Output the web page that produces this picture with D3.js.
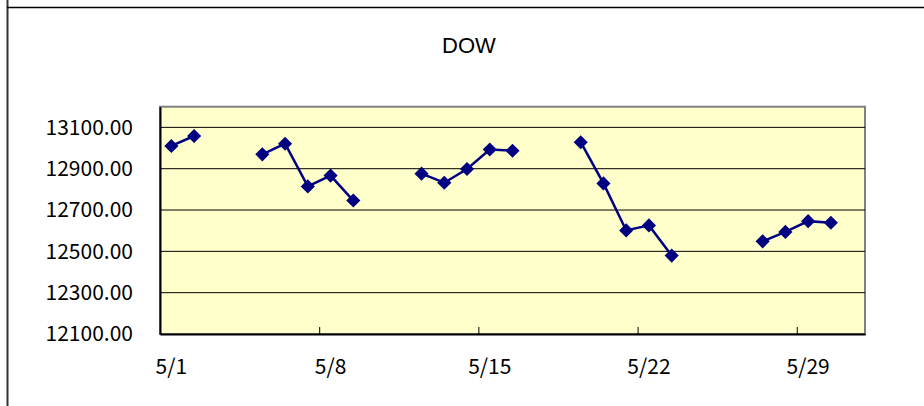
<!DOCTYPE html>
<html>
<head>
<meta charset="utf-8">
<script src="https://cdn.jsdelivr.net/npm/d3@7"></script>
<style>
  body { margin: 0; background: #fff; }
  text { font-family: "Noto Sans CJK JP", "Liberation Sans", sans-serif; fill: #000; }
</style>
</head>
<body>
<div id="chart"></div>
<script>
// trading days in May and Dow closes
const days = [1, 2, 5, 6, 7, 8, 9, 12, 13, 14, 15, 16, 19, 20, 21, 22, 23, 27, 28, 29, 30];
const dow = [13010.00, 13058.20, 12969.54, 13020.83, 12814.35, 12866.78, 12745.88,
             12876.05, 12832.18, 12898.38, 12992.66, 12986.80,
             13028.16, 12828.68, 12601.19, 12625.62, 12479.63,
             12548.35, 12594.03, 12646.22, 12638.32];
const yTicks = [12100, 12300, 12500, 12700, 12900, 13100];
const xLabelDays = [1, 8, 15, 22, 29];

const w = 924;
const h = 406;
const plotLeft = 160, plotRight = 865, plotTop = 106.7, plotBottom = 334;

// full calendar so the line breaks on days with no close
const series = d3.range(1, 32).map(d => {
  const i = days.indexOf(d);
  return { day: d, value: i < 0 ? null : dow[i] };
});

const xScale = d3.scaleLinear().domain([0.5, 31.5]).range([plotLeft, plotRight]);
const yScale = d3.scaleLinear().domain([12100, 13200]).range([plotBottom, plotTop]);

const svg = d3.select('#chart')
  .append('svg')
  .attr('width', w)
  .attr('height', h);

svg.append('rect').attr('width', w).attr('height', h).attr('fill', '#fff');

// chart area border (only top and left show)
svg.append('line')
  .attr('x1', 7.5).attr('x2', 7.5).attr('y1', 0).attr('y2', h)
  .attr('stroke', '#333').attr('stroke-width', 2);
svg.append('line')
  .attr('x1', 7).attr('x2', w).attr('y1', 7.5).attr('y2', 7.5)
  .attr('stroke', '#000').attr('stroke-width', 1.5);

svg.append('text')
  .attr('x', 469).attr('y', 53)
  .attr('text-anchor', 'middle')
  .style('font-family', '"Liberation Sans", sans-serif')
  .style('font-size', '22px')
  .text('DOW');

// plot area
svg.append('rect')
  .attr('x', plotLeft).attr('y', plotTop)
  .attr('width', plotRight - plotLeft).attr('height', plotBottom - plotTop)
  .attr('fill', '#FFFFCC')
  .attr('stroke', '#808080')
  .attr('stroke-width', 2);

svg.append('g')
  .selectAll('line')
  .data(yTicks.slice(1))
  .enter()
  .append('line')
  .attr('x1', plotLeft).attr('x2', plotRight)
  .attr('y1', d => yScale(d)).attr('y2', d => yScale(d))
  .attr('stroke', '#000').attr('stroke-width', 1);

const yAxis = d3.axisLeft(yScale)
  .tickValues(yTicks)
  .tickSize(0)
  .tickPadding(27)
  .tickFormat(d3.format('.2f'));

const gy = svg.append('g')
  .attr('transform', 'translate(' + plotLeft + ',0)')
  .call(yAxis);
gy.select('.domain').attr('stroke', '#000').attr('stroke-width', 2);
gy.selectAll('text').style('font-size', '21px');

const xAxis = d3.axisBottom(xScale)
  .tickValues([0.5, 7.5, 14.5, 21.5, 28.5])
  .tickSizeInner(-7)
  .tickSizeOuter(0)
  .tickFormat('');

const gx = svg.append('g')
  .attr('transform', 'translate(0,' + plotBottom + ')')
  .call(xAxis);
gx.select('.domain').attr('stroke', '#000').attr('stroke-width', 2);
gx.selectAll('.tick line').attr('stroke', '#000');

svg.append('g')
  .selectAll('text')
  .data(xLabelDays)
  .enter()
  .append('text')
  .attr('x', d => xScale(d))
  .attr('y', 374)
  .attr('text-anchor', 'middle')
  .style('font-size', '21px')
  .text(d => '5/' + d);

const line = d3.line()
  .defined(d => d.value !== null)
  .x(d => xScale(d.day))
  .y(d => yScale(d.value));

svg.append('path')
  .datum(series)
  .attr('d', line)
  .attr('fill', 'none')
  .attr('stroke', '#000080')
  .attr('stroke-width', 2.5);

svg.append('g')
  .selectAll('path')
  .data(series.filter(d => d.value !== null))
  .enter()
  .append('path')
  .attr('d', d3.symbol(d3.symbolSquare, 100))
  .attr('transform', d => 'translate(' + xScale(d.day) + ',' + yScale(d.value) + ') rotate(45)')
  .attr('fill', '#000080');
</script>
</body>
</html>
